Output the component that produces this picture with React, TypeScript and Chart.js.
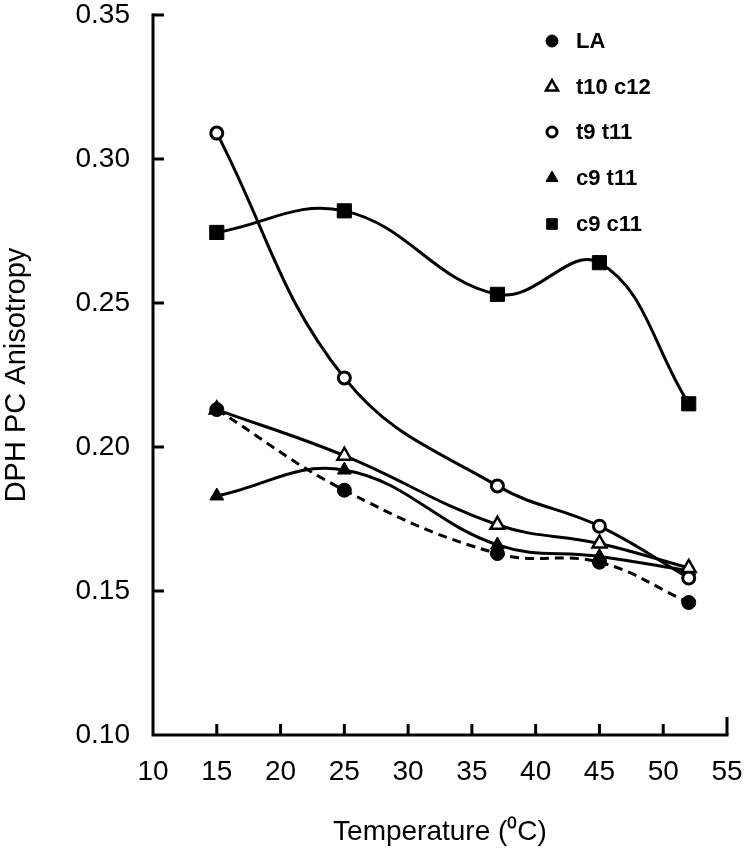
import React, { useEffect, useRef } from "react";
import { Chart, registerables } from "chart.js";

Chart.register(...registerables);

// ---- data ----
const temperatures = [15, 25, 37, 45, 52];
const seriesNames = ["LA", "t10 c12", "t9 t11", "c9 t11", "c9 c11"];
const valuesLA = [0.213, 0.185, 0.163, 0.16, 0.146];
const valuesT10C12 = [0.213, 0.197, 0.173, 0.1665, 0.158];
const valuesT9T11 = [0.309, 0.224, 0.1865, 0.1725, 0.1545];
const valuesC9T11 = [0.183, 0.192, 0.166, 0.162, 0.157];
const valuesC9C11 = [0.2745, 0.282, 0.253, 0.264, 0.215];
const xTickValues = [10, 15, 20, 25, 30, 35, 40, 45, 50, 55];
const yTickValues = [0.1, 0.15, 0.2, 0.25, 0.3, 0.35];
const xTitle = "Temperature (\u2070C)";
const yTitle = "DPH PC Anisotropy";

const W = 750;
const H = 854;
const PLOT_LEFT = 153;
const PLOT_RIGHT = 727;
const PLOT_TOP = 15;
const PLOT_BOTTOM = 735;
const FONT = "'Liberation Sans', Arial, Helvetica, sans-serif";

type Marker = { style: string; radius: number; fill: string; border: number };
const markers: Marker[] = [
  { style: "circle", radius: 7, fill: "#000", border: 1 },
  { style: "triangle", radius: 8, fill: "#fff", border: 2.5 },
  { style: "circle", radius: 6, fill: "#fff", border: 3 },
  { style: "triangle", radius: 8, fill: "#000", border: 1 },
  { style: "rect", radius: 10, fill: "#000", border: 1 },
];

function drawShape(ctx: CanvasRenderingContext2D, style: string, x: number, y: number, r: number, fill: string, lw: number) {
  ctx.save();
  ctx.beginPath();
  if (style === "circle") {
    ctx.arc(x, y, r, 0, Math.PI * 2);
  } else if (style === "triangle") {
    let rad = 0;
    ctx.moveTo(x + Math.sin(rad) * r, y - Math.cos(rad) * r);
    rad += (2 * Math.PI) / 3;
    ctx.lineTo(x + Math.sin(rad) * r, y - Math.cos(rad) * r);
    rad += (2 * Math.PI) / 3;
    ctx.lineTo(x + Math.sin(rad) * r, y - Math.cos(rad) * r);
    ctx.closePath();
  } else {
    const s = r * Math.SQRT1_2;
    ctx.rect(x - s, y - s, 2 * s, 2 * s);
  }
  ctx.fillStyle = fill;
  ctx.fill();
  ctx.lineWidth = lw;
  ctx.strokeStyle = "#000";
  ctx.stroke();
  ctx.restore();
}

const axesPlugin = {
  id: "customAxes",
  afterDraw(chart: any) {
    const { ctx, scales } = chart;
    const xs = scales.x;
    const ys = scales.y;
    const left = xs.getPixelForValue(xTickValues[0]);
    const right = xs.getPixelForValue(xTickValues[xTickValues.length - 1]);
    const top = ys.getPixelForValue(yTickValues[yTickValues.length - 1]);
    const bottom = ys.getPixelForValue(yTickValues[0]);
    ctx.save();
    ctx.strokeStyle = "#000";
    ctx.lineWidth = 3;
    ctx.lineCap = "square";
    ctx.beginPath();
    ctx.moveTo(left, top);
    ctx.lineTo(left, bottom);
    ctx.lineTo(right, bottom);
    ctx.stroke();
    ctx.lineCap = "butt";
    ctx.beginPath();
    xTickValues.forEach((v, i) => {
      if (i === 0) return;
      const px = xs.getPixelForValue(v);
      const len = i === xTickValues.length - 1 ? 18 : 11;
      ctx.moveTo(px, bottom);
      ctx.lineTo(px, bottom - len);
    });
    yTickValues.forEach((v, i) => {
      if (i === 0) return;
      const py = ys.getPixelForValue(v);
      ctx.moveTo(left, py);
      ctx.lineTo(left + 11, py);
    });
    ctx.stroke();

    // legend
    const legendX = 552;
    const textX = 576;
    const rowY = [41, 87, 132, 178, 224];
    const legendMarkers = [
      { r: 6, lw: 1 },
      { r: 7, lw: 2.5 },
      { r: 5, lw: 3 },
      { r: 7, lw: 1 },
      { r: 7.5, lw: 1 },
    ];
    ctx.font = `bold 22px ${FONT}`;
    ctx.fillStyle = "#000";
    ctx.textBaseline = "middle";
    ctx.textAlign = "left";
    seriesNames.forEach((name, i) => {
      const m = markers[i];
      const lm = legendMarkers[i];
      drawShape(ctx, m.style, legendX, rowY[i], lm.r, m.fill, lm.lw);
      ctx.fillStyle = "#000";
      ctx.fillText(name, textX, rowY[i] + 1);
    });
    ctx.restore();
  },
};

export default function App() {
  const ref = useRef<HTMLCanvasElement | null>(null);
  useEffect(() => {
    if (!ref.current) return;
    const allValues = [valuesLA, valuesT10C12, valuesT9T11, valuesC9T11, valuesC9C11];
    const datasets = allValues.map((vals, i) => {
      const m = markers[i];
      return {
        label: seriesNames[i],
        data: temperatures.map((t, j) => ({ x: t, y: vals[j] })),
        borderColor: "#000",
        borderWidth: 3,
        borderDash: i === 0 ? [9, 6] : [],
        tension: 0.4,
        fill: false,
        pointStyle: m.style as any,
        pointRadius: m.radius,
        pointBackgroundColor: m.fill,
        pointBorderColor: "#000",
        pointBorderWidth: m.border,
        pointHoverRadius: m.radius,
      };
    });
    const chart = new Chart(ref.current, {
      type: "line",
      data: { datasets },
      options: {
        animation: false,
        responsive: false,
        maintainAspectRatio: false,
        devicePixelRatio: 1,
        layout: {
          autoPadding: false,
          padding: { top: PLOT_TOP, right: W - PLOT_RIGHT, left: 0, bottom: 0 },
        },
        plugins: { legend: { display: false }, tooltip: { enabled: false } },
        scales: {
          x: {
            type: "linear",
            min: 10,
            max: 55,
            afterBuildTicks: (s: any) => {
              s.ticks = xTickValues.map((v) => ({ value: v }));
            },
            afterFit: (s: any) => {
              s.height = H - PLOT_BOTTOM;
              s.paddingLeft = 0;
              s.paddingRight = 0;
            },
            grid: { display: false, drawTicks: false },
            border: { display: false },
            ticks: {
              color: "#000",
              font: { family: FONT, size: 28 },
              padding: 20,
              maxRotation: 0,
              autoSkip: false,
            },
            title: {
              display: true,
              text: xTitle,
              color: "#000",
              font: { family: FONT, size: 28 },
              padding: { top: 0, bottom: 5 },
            },
          },
          y: {
            type: "linear",
            min: 0.1,
            max: 0.35,
            afterBuildTicks: (s: any) => {
              s.ticks = yTickValues.map((v) => ({ value: v }));
            },
            afterFit: (s: any) => {
              s.width = PLOT_LEFT;
              s.paddingTop = 0;
              s.paddingBottom = 0;
            },
            grid: { display: false, drawTicks: false },
            border: { display: false },
            ticks: {
              color: "#000",
              font: { family: FONT, size: 28 },
              padding: 23,
              autoSkip: false,
              callback: (v: any) => Number(v).toFixed(2),
            },
            title: {
              display: true,
              text: yTitle,
              color: "#000",
              font: { family: FONT, size: 29 },
              padding: { top: 0, bottom: 0 },
            },
          },
        },
      },
      plugins: [axesPlugin],
    });
    return () => chart.destroy();
  }, []);
  return (
    <div style={{ position: "fixed", left: 0, top: 0, width: W, height: H, background: "#fff" }}>
      <canvas ref={ref} width={W} height={H} style={{ display: "block" }} />
    </div>
  );
}
